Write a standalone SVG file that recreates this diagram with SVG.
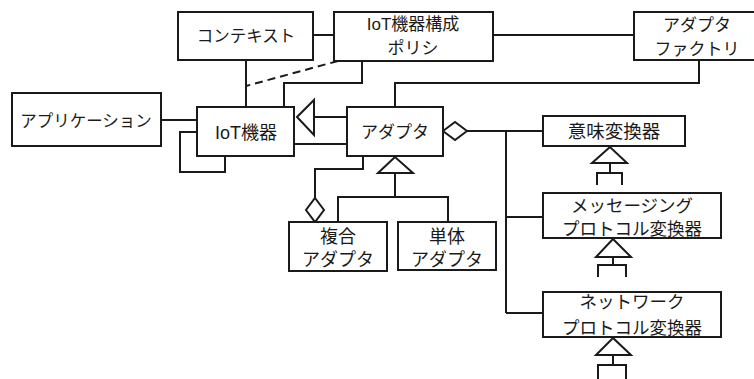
<svg xmlns="http://www.w3.org/2000/svg" width="754" height="379" viewBox="0 0 754 379">
<style>
.box{fill:#fff;stroke:#1a1a1a;stroke-width:2}
.ln{fill:none;stroke:#1a1a1a;stroke-width:2}
.dash{fill:none;stroke:#1a1a1a;stroke-width:2;stroke-dasharray:8 5}
.tri{fill:#fff;stroke:#1a1a1a;stroke-width:2;stroke-linejoin:miter}
text{font-family:"Liberation Sans","Noto Sans CJK JP",sans-serif;font-size:17px;fill:#1a1a1a;text-anchor:middle}
.big{font-size:18px}
.xl{font-size:18.5px}
</style>
<g id="connectors">
  <line class="ln" x1="313" y1="35" x2="334" y2="35"/>
  <line class="ln" x1="493" y1="35" x2="634" y2="35"/>
  <line class="ln" x1="246" y1="60" x2="246" y2="107"/>
  <line class="dash" x1="338" y1="61" x2="246" y2="86"/>
  <polyline class="ln" points="362,61 362,83 284,83 284,107"/>
  <polyline class="ln" points="395,107 395,83 699,83 699,60"/>
  <line class="ln" x1="161" y1="120" x2="197" y2="120"/>
  <polyline class="ln" points="197,132 180,132 180,172 225,172 225,156"/>
  <line class="ln" x1="314" y1="117" x2="347" y2="117"/>
  <polygon class="tri" points="297,117 314,100 314,135"/>
  <line class="ln" x1="294" y1="144" x2="347" y2="144"/>
  <line class="ln" x1="467" y1="131" x2="543" y2="131"/>
  <polygon class="tri" points="443,131 455,122 467,131 455,140"/>
  <line class="ln" x1="506" y1="131" x2="506" y2="313"/>
  <line class="ln" x1="506" y1="217" x2="543" y2="217"/>
  <line class="ln" x1="506" y1="313" x2="543" y2="313"/>
  <polyline class="ln" points="363,156 363,169 315,169 315,198"/>
  <polygon class="tri" points="315,198 324,210 315,222 306,210"/>
  <polyline class="ln" points="395,173 395,197"/>
  <polyline class="ln" points="338,222 338,197 448,197 448,222"/>
  <polygon class="tri" points="395,157 378,173 413,173"/>
  <polygon class="tri" points="610,147 592,163 627,163"/>
  <line class="ln" x1="610" y1="163" x2="610" y2="173"/>
  <polyline class="ln" points="597,185 597,173 622,173 622,185"/>
  <polygon class="tri" points="613,239 596,257 631,257"/>
  <line class="ln" x1="613" y1="257" x2="613" y2="265"/>
  <polyline class="ln" points="598,277 598,265 626,265 626,277"/>
  <polygon class="tri" points="613,338 596,355 631,355"/>
  <line class="ln" x1="613" y1="355" x2="613" y2="365"/>
  <polyline class="ln" points="598,379 598,365 626,365 626,379"/>
</g>
<g id="context">
  <rect class="box" x="178" y="12" width="135" height="48"/>
  <text x="246" y="42" style="font-size:16.5px">コンテキスト</text>
</g>
<g id="policy">
  <rect class="box" x="334" y="12" width="159" height="49"/>
  <text x="413" y="30">IoT機器構成</text>
  <text x="413" y="54">ポリシ</text>
</g>
<g id="factory">
  <rect class="box" x="634" y="12" width="126" height="48"/>
  <text x="697" y="31">アダプタ</text>
  <text x="697" y="55">ファクトリ</text>
</g>
<g id="application">
  <rect class="box" x="12" y="93" width="149" height="53"/>
  <text x="86" y="127" style="font-size:16.5px">アプリケーション</text>
</g>
<g id="iot-device">
  <rect class="box" x="197" y="107" width="97" height="49"/>
  <text x="246" y="139" class="big">IoT機器</text>
</g>
<g id="adapter">
  <rect class="box" x="347" y="107" width="96" height="49"/>
  <text x="395" y="138">アダプタ</text>
</g>
<g id="composite-adapter">
  <rect class="box" x="289" y="222" width="98" height="49"/>
  <text x="338" y="243" class="big">複合</text>
  <text x="338" y="266" class="big">アダプタ</text>
</g>
<g id="single-adapter">
  <rect class="box" x="398" y="222" width="98" height="48"/>
  <text x="447" y="243" class="big">単体</text>
  <text x="447" y="266" class="big">アダプタ</text>
</g>
<g id="semantic-converter">
  <rect class="box" x="543" y="116" width="142" height="30"/>
  <text x="614" y="138" class="xl">意味変換器</text>
</g>
<g id="messaging-converter">
  <rect class="box" x="543" y="193" width="178" height="45"/>
  <text x="632" y="212" style="font-size:17.5px">メッセージング</text>
  <text x="632" y="235" style="font-size:17.5px">プロトコル変換器</text>
</g>
<g id="network-converter">
  <rect class="box" x="543" y="292" width="178" height="45"/>
  <text x="632" y="308" style="font-size:17.5px">ネットワーク</text>
  <text x="632" y="334" style="font-size:17.5px">プロトコル変換器</text>
</g>
</svg>
